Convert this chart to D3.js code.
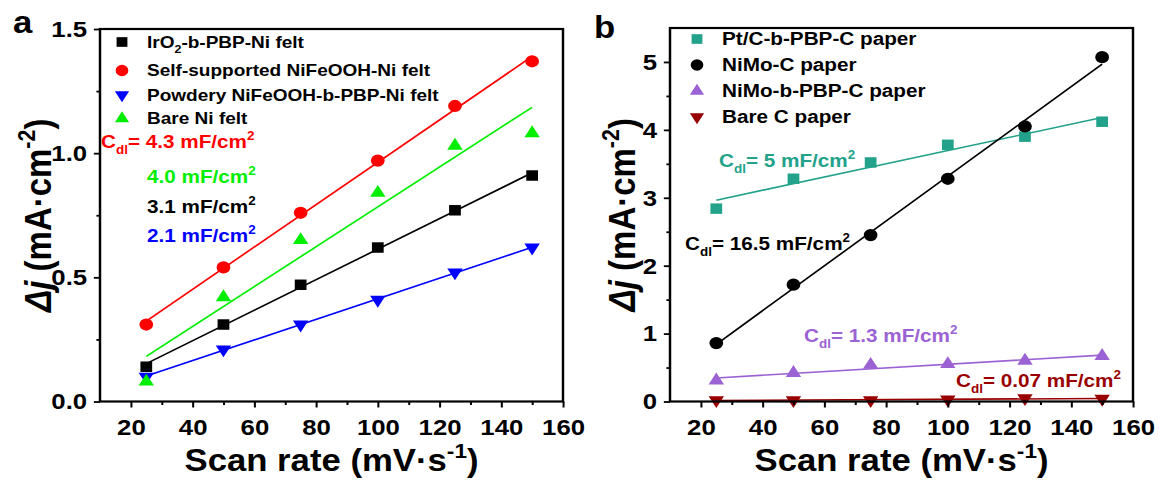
<!DOCTYPE html>
<html>
<head>
<meta charset="utf-8">
<script src="https://cdn.jsdelivr.net/npm/d3@7"></script>
<style>
  body { margin: 0; background: #fff; }
  text { font-family: "Liberation Sans", Arial, sans-serif; font-weight: bold; }
</style>
</head>
<body>
<div id="chart"></div>
<script>
// scan rates (mV/s)
const scanRates = [25, 50, 75, 100, 125, 150]

// panel a, delta j (mA/cm2)
const iro2Felt = [0.14, 0.31, 0.47, 0.62, 0.77, 0.91]
const selfNiFeFelt = [0.31, 0.54, 0.76, 0.97, 1.19, 1.37]
const powderNiFeFelt = [0.10, 0.21, 0.31, 0.41, 0.52, 0.62]
const bareNiFelt = [0.08, 0.42, 0.65, 0.84, 1.03, 1.08]

// panel b, delta j (mA/cm2)
const ptcPaper = [2.84, 3.28, 3.52, 3.78, 3.90, 4.12]
const nimoPaper = [0.86, 1.72, 2.45, 3.28, 4.05, 5.07]
const nimoPbpPaper = [0.31, 0.42, 0.54, 0.55, 0.60, 0.67]
const bareCPaper = [0.02, 0.02, 0.02, 0.03, 0.05, 0.04]

const xTicks = [20, 40, 60, 80, 100, 120, 140, 160]
const xMinor = [30, 50, 70, 90, 110, 130, 150]
const yTicksA = [0, 0.5, 1.0, 1.5]
const yMinorA = [0.25, 0.75, 1.25]
const yTicksB = [0, 1, 2, 3, 4, 5]
const yMinorB = [0.5, 1.5, 2.5, 3.5, 4.5]

const W = 1159
const H = 483
const SX = 1.12 // the source figure is stretched sideways
const X = (v) => v / SX

const svg = d3.select('#chart').append('svg')
    .attr('width', W)
    .attr('height', H)
const root = svg.append('g').attr('transform', 'scale(' + SX + ',1)')

const shapes = {
    square: { type: d3.symbolSquare, size: 110, rot: 0 },
    circle: { type: d3.symbolCircle, size: 118, rot: 0 },
    up: { type: d3.symbolTriangle, size: 82, rot: 0 },
    down: { type: d3.symbolTriangle, size: 82, rot: 180 }
}

// least squares fit, returns [slope, intercept]
function fit(xs, ys) {
    const mx = d3.mean(xs)
    const my = d3.mean(ys)
    const sxy = d3.sum(xs, (v, i) => (v - mx) * (ys[i] - my))
    const sxx = d3.sum(xs, (v) => (v - mx) * (v - mx))
    const k = sxy / sxx
    return [k, my - k * mx]
}

// text built from parts, {t, sub, sup, it}
function richText(sel, parts, fs) {
    let shift = 0
    parts.forEach((p) => {
        const ts = sel.append('tspan').text(p.t)
        let target = 0
        let size = fs
        if (p.sub) { target = fs * 0.3; size = fs * 0.65 }
        if (p.sup) { target = -fs * 0.42; size = fs * 0.65 }
        ts.attr('font-size', size)
        if (target !== shift) ts.attr('dy', target - shift)
        if (p.it) ts.attr('font-style', 'italic')
        shift = target
    })
    return sel
}

function drawPanel(cfg) {
    const x = d3.scaleLinear().domain([10, 160]).range([X(cfg.left), X(cfg.right)])
    const y = d3.scaleLinear().domain(cfg.yDomain).range([cfg.bottom, cfg.top])
    const g = root.append('g')

    // fit lines
    const ends = d3.extent(scanRates)
    cfg.series.forEach((s) => {
        const [k, b] = fit(scanRates, s.values)
        g.append('path')
            .datum(ends)
            .attr('d', d3.line().x((d) => x(d)).y((d) => y(k * d + b)))
            .attr('fill', 'none')
            .attr('stroke', s.color)
            .attr('stroke-width', 1.6)
    })

    // markers
    cfg.series.forEach((s) => {
        const sh = shapes[s.shape]
        g.append('g').selectAll('path')
            .data(s.values)
            .enter().append('path')
            .attr('d', d3.symbol().type(sh.type).size(sh.size))
            .attr('transform', (d, i) => 'translate(' + x(scanRates[i]) + ',' + y(d) + ') rotate(' + sh.rot + ')')
            .attr('fill', s.color)
    })

    // axes
    const xMaj = g.append('g')
        .attr('transform', 'translate(0,' + cfg.bottom + ')')
        .call(d3.axisBottom(x).tickValues(xTicks).tickSize(6).tickPadding(11))
    g.append('g')
        .attr('transform', 'translate(0,' + cfg.bottom + ')')
        .call(d3.axisBottom(x).tickValues(xMinor).tickSize(3.5).tickFormat(''))
    const yMaj = g.append('g')
        .attr('transform', 'translate(' + X(cfg.left) + ',0)')
        .call(d3.axisLeft(y).tickValues(cfg.yTicks).tickSize(5.5).tickPadding(6).tickFormat(cfg.yFormat))
    g.append('g')
        .attr('transform', 'translate(' + X(cfg.left) + ',0)')
        .call(d3.axisLeft(y).tickValues(cfg.yMinor).tickSize(3.2).tickFormat(''))
    g.selectAll('.domain').remove()
    g.selectAll('.tick line').attr('stroke', '#000').attr('stroke-width', 1.8)
    xMaj.attr('font-size', 23)
    yMaj.attr('font-size', 23)
    g.selectAll('.tick text').attr('fill', '#000')

    // frame
    g.append('rect')
        .attr('x', X(cfg.left))
        .attr('y', cfg.top)
        .attr('width', X(cfg.right) - X(cfg.left))
        .attr('height', cfg.bottom - cfg.top)
        .attr('fill', 'none')
        .attr('stroke', '#000')
        .attr('stroke-width', 2.2)

    // axis titles
    richText(g.append('text')
        .attr('x', X((cfg.left + cfg.right) / 2))
        .attr('y', 471)
        .attr('text-anchor', 'middle')
        .attr('font-size', 31), [{ t: 'Scan rate (mV·s' }, { t: '-1', sup: true }, { t: ')' }], 31)
    richText(g.append('text')
        .attr('transform', 'translate(' + X(cfg.yTitleX) + ',' + ((cfg.top + cfg.bottom) / 2) + ') rotate(-90)')
        .attr('text-anchor', 'middle')
        .attr('font-size', 33), [{ t: 'Δj', it: true }, { t: ' (mA·cm' }, { t: '-2', sup: true }, { t: ')' }], 33)

    // panel letter
    g.append('text')
        .attr('x', X(cfg.letter[1]))
        .attr('y', cfg.letter[2])
        .attr('font-size', 31)
        .text(cfg.letter[0])

    // legend
    cfg.series.forEach((s, i) => {
        const sh = shapes[s.shape]
        const ly = cfg.legendY[i]
        g.append('path')
            .attr('d', d3.symbol().type(sh.type).size(sh.size * 0.85))
            .attr('transform', 'translate(' + X(cfg.legendX) + ',' + ly + ') rotate(' + sh.rot + ')')
            .attr('fill', s.color)
        richText(g.append('text')
            .attr('x', X(cfg.legendX + 25))
            .attr('y', ly + 6)
            .attr('font-size', cfg.legendSize), s.label, cfg.legendSize)
    })

    // capacitance notes
    cfg.notes.forEach((n) => {
        richText(g.append('text')
            .attr('x', X(n.x))
            .attr('y', n.y)
            .attr('fill', n.color)
            .attr('font-size', 18.5), n.parts, 18.5)
    })
}

const cdl = (v) => [{ t: 'C' }, { t: 'dl', sub: true }, { t: '= ' + v + ' mF/cm' }, { t: '2', sup: true }]
const plain = (v) => [{ t: v + ' mF/cm' }, { t: '2', sup: true }]

drawPanel({
    left: 100, right: 563, top: 29, bottom: 401.5,
    yDomain: [0, 1.5], yTicks: yTicksA, yMinor: yMinorA, yFormat: d3.format('.1f'),
    yTitleX: 51, letter: ['a', 13, 33],
    legendX: 122, legendY: [42, 70.5, 95, 118.5], legendSize: 17,
    series: [
        { values: iro2Felt, color: '#000000', shape: 'square',
          label: [{ t: 'IrO' }, { t: '2', sub: true }, { t: '-b-PBP-Ni felt' }] },
        { values: selfNiFeFelt, color: '#ff0000', shape: 'circle',
          label: [{ t: 'Self-supported NiFeOOH-Ni felt' }] },
        { values: powderNiFeFelt, color: '#0000ff', shape: 'down',
          label: [{ t: 'Powdery NiFeOOH-b-PBP-Ni felt' }] },
        { values: bareNiFelt, color: '#00ee00', shape: 'up',
          label: [{ t: 'Bare Ni felt' }] }
    ],
    notes: [
        { x: 101, y: 148, color: '#ff0000', parts: cdl('4.3') },
        { x: 147, y: 183, color: '#00ee00', parts: plain('4.0') },
        { x: 147, y: 213, color: '#000000', parts: plain('3.1') },
        { x: 147, y: 242, color: '#0000ff', parts: plain('2.1') }
    ]
})

drawPanel({
    left: 670, right: 1133, top: 28, bottom: 401.5,
    yDomain: [0, 5.5], yTicks: yTicksB, yMinor: yMinorB, yFormat: d3.format('d'),
    yTitleX: 635, letter: ['b', 594, 38],
    legendX: 697, legendY: [39, 65, 91, 117], legendSize: 18.5,
    series: [
        { values: ptcPaper, color: '#22a28a', shape: 'square',
          label: [{ t: 'Pt/C-b-PBP-C paper' }] },
        { values: nimoPaper, color: '#000000', shape: 'circle',
          label: [{ t: 'NiMo-C paper' }] },
        { values: nimoPbpPaper, color: '#9b62d4', shape: 'up',
          label: [{ t: 'NiMo-b-PBP-C paper' }] },
        { values: bareCPaper, color: '#990000', shape: 'down',
          label: [{ t: 'Bare C paper' }] }
    ],
    notes: [
        { x: 719, y: 167, color: '#22a28a', parts: cdl('5') },
        { x: 685, y: 250, color: '#000000', parts: cdl('16.5') },
        { x: 804, y: 342, color: '#9b62d4', parts: cdl('1.3') },
        { x: 956, y: 387, color: '#990000', parts: cdl('0.07') }
    ]
})
</script>
</body>
</html>
